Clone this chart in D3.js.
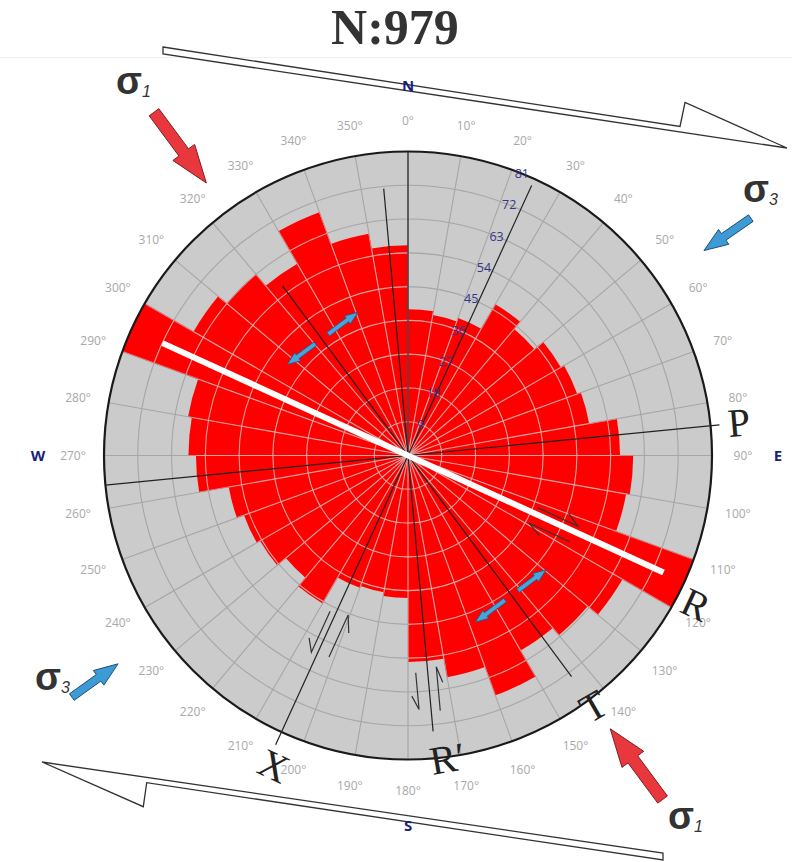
<!DOCTYPE html>
<html>
<head>
<meta charset="utf-8">
<script src="https://cdn.jsdelivr.net/npm/d3@7"></script>
<style>
  body { margin: 0; background: #fff; }
  svg { display: block; }
</style>
</head>
<body>
<svg id="chart" width="792" height="862"></svg>
<script>
// ---- data ----
const total = 979;
const sectors = [0, 10, 20, 30, 40, 50, 60, 70, 80, 90, 100, 110, 120, 130, 140, 150, 160, 170,
                 180, 190, 200, 210, 220, 230, 240, 250, 260, 270, 280, 290, 300, 310, 320, 330, 340, 350];
const counts = [39, 38, 39, 46.5, 44, 47, 48, 49, 56.5, 60, 59, 81, 66, 62.5, 60, 68, 60, 55,
                38, 37, 37.5, 45.5, 42.5, 45.5, 46.5, 48.5, 56.5, 58.5, 59.5, 81, 66, 63, 59, 69, 60, 56];
const ringTicks = [9, 18, 27, 36, 45, 54, 63, 72, 81];
const degreeTicks = [0, 10, 20, 30, 40, 50, 60, 70, 80, 90, 100, 110, 120, 130, 140, 150, 160, 170,
                     180, 190, 200, 210, 220, 230, 240, 250, 260, 270, 280, 290, 300, 310, 320, 330, 340, 350];
const compass = ["N", "E", "S", "W"];
const compassAz = [0, 90, 180, 270];

const cx = 408, cy = 455.5, R = 304;
const svg = d3.select("#chart");
const rScale = d3.scaleLinear().domain([0, 81]).range([0, R]);
const aScale = d3.scaleLinear().domain([0, 360]).range([0, 2 * Math.PI]);

function polar(az, r) {
    const a = aScale(az);
    return [r * Math.sin(a), -r * Math.cos(a)];
}

// title
svg.append("text")
    .attr("x", 395).attr("y", 44)
    .attr("text-anchor", "middle")
    .attr("font-family", "'Liberation Serif', 'Times New Roman', serif")
    .attr("font-weight", "bold")
    .attr("font-size", 50)
    .attr("fill", "#333")
    .text("N:" + total);
svg.append("line").attr("x1", 0).attr("x2", 792).attr("y1", 57.5).attr("y2", 57.5)
    .attr("stroke", "#f0f0f0");

// large half arrows for the shear zone (drawn first, labels go on top)
const topShear = [[163, 47], [680, 126.5], [685, 102.5], [787, 148], [163, 54]];
const bottomShear = [[42, 762], [663, 853], [663, 860], [146.7, 782.7], [143.3, 806.7]];
[topShear, bottomShear].forEach(function (pts) {
    svg.append("path")
        .attr("d", d3.line()(pts) + "Z")
        .attr("fill", "#fff")
        .attr("stroke", "#333")
        .attr("stroke-width", 1.3)
        .attr("stroke-linejoin", "miter");
});

const g = svg.append("g").attr("transform", `translate(${cx},${cy})`);

// background disc
g.append("circle").attr("r", R).attr("fill", "#cbcbcb");

function drawGrid(sel, color) {
    sel.selectAll("circle")
        .data(ringTicks.slice(0, -1))
        .enter().append("circle")
        .attr("r", d => rScale(d))
        .attr("fill", "none")
        .attr("stroke", color)
        .attr("stroke-width", 1.1);
    sel.selectAll("line")
        .data(degreeTicks)
        .enter().append("line")
        .attr("x1", 0).attr("y1", 0)
        .attr("x2", d => polar(d, R)[0])
        .attr("y2", d => polar(d, R)[1])
        .attr("stroke", color)
        .attr("stroke-width", 1.1);
}
drawGrid(g.append("g"), "#a6a6a6");

// petals
const arc = d3.arc().innerRadius(0);
const petals = sectors.map((s, i) => ({
    startAngle: aScale(s),
    endAngle: aScale(s + 10),
    outerRadius: rScale(counts[i])
}));
const defs = svg.append("defs");
defs.append("clipPath").attr("id", "petalClip")
    .selectAll("path")
    .data(petals)
    .enter().append("path")
    .attr("d", arc);

g.append("g").selectAll("path")
    .data(petals)
    .enter().append("path")
    .attr("d", arc)
    .attr("fill", "#ff0000");

// light grid over the red
drawGrid(g.append("g").attr("clip-path", "url(#petalClip)"), "#dea4a2");

// outer circle
g.append("circle").attr("r", R).attr("fill", "none").attr("stroke", "#1a1a1a").attr("stroke-width", 2.2);

// degree labels
g.append("g").selectAll("text")
    .data(degreeTicks)
    .enter().append("text")
    .attr("x", d => polar(d, 335)[0])
    .attr("y", d => polar(d, 335)[1])
    .attr("text-anchor", "middle")
    .attr("dy", "0.35em")
    .attr("font-family", "'Open Sans', 'Noto Sans', sans-serif")
    .attr("font-size", 12)
    .attr("fill", "#a8a8a8")
    .text(d => d + "°");

// compass letters
g.append("g").selectAll("text")
    .data(compass)
    .enter().append("text")
    .attr("x", (d, i) => polar(compassAz[i], 370)[0])
    .attr("y", (d, i) => polar(compassAz[i], 370)[1])
    .attr("text-anchor", "middle")
    .attr("dy", "0.35em")
    .attr("font-family", "'Open Sans', 'Noto Sans', sans-serif")
    .attr("font-weight", "bold")
    .attr("font-size", 15)
    .attr("fill", "#1a1f7a")
    .text(d => d);

// fracture lines (azimuth, length on that side, length on opposite side)
const fractureLines = [
    [0, R, 0],
    [354.8, 268, 277],
    [24.6, 297, 318],
    [84.4, 313, 304],
    [143.5, 275, 211]
];
fractureLines.forEach(function (l) {
    const a = polar(l[0], l[1]);
    const b = polar(l[0] + 180, l[2]);
    g.append("line")
        .attr("x1", a[0]).attr("y1", a[1])
        .attr("x2", b[0]).attr("y2", b[1])
        .attr("stroke", "#222")
        .attr("stroke-width", 1.2);
});

// main R direction, white
const rA = polar(114.6, 281), rB = polar(294.6, 270);
g.append("line")
    .attr("x1", rA[0]).attr("y1", rA[1])
    .attr("x2", rB[0]).attr("y2", rB[1])
    .attr("stroke", "#fff")
    .attr("stroke-width", 6);

// radial count labels
g.append("g").selectAll("text")
    .data(ringTicks)
    .enter().append("text")
    .attr("x", d => polar(22, rScale(d))[0])
    .attr("y", d => polar(22, rScale(d))[1])
    .attr("text-anchor", "middle")
    .attr("dy", "0.35em")
    .attr("font-family", "'Open Sans', 'Noto Sans', sans-serif")
    .attr("font-size", 12.5)
    .attr("fill", "#35358c")
    .text(d => d);

// half arrows showing shear sense beside a line
function halfArrow(az, r0, r1, perp, headFar, back, out) {
    const grp = g.append("g").attr("transform", `rotate(${az - 90})`);
    const sign = perp > 0 ? 1 : -1;
    const hx = headFar ? r1 : r0;
    const dir = headFar ? -1 : 1;
    const pts = [[headFar ? r0 : r1, perp], [hx, perp], [hx + dir * back, perp + sign * out]];
    grp.append("path")
        .attr("d", d3.line()(pts))
        .attr("fill", "none")
        .attr("stroke", "#333")
        .attr("stroke-width", 1.2);
}
halfArrow(114.6, 139, 184, -6.5, true, 14, 8);
halfArrow(114.6, 138, 183, 11, false, 15, 7);
halfArrow(204.6, 174, 219, 6, true, 12, 8);
halfArrow(204.6, 170, 216, -12, false, 16, 8);
halfArrow(174.8, 217, 254, 12, true, 14, 6);
halfArrow(174.8, 213, 257, -9, false, 16, 5);

// block arrow between two points
function blockArrow(p0, p1, sw, hw, hl, fill, stroke) {
    const dx = p1[0] - p0[0], dy = p1[1] - p0[1];
    const L = Math.sqrt(dx * dx + dy * dy);
    const ang = Math.atan2(dy, dx) * 180 / Math.PI;
    const pts = [[0, -sw / 2], [L - hl, -sw / 2], [L - hl, -hw / 2], [L, 0],
                 [L - hl, hw / 2], [L - hl, sw / 2], [0, sw / 2]];
    g.append("path")
        .attr("transform", `translate(${p0[0]},${p0[1]}) rotate(${ang})`)
        .attr("d", d3.line()(pts) + "Z")
        .attr("fill", fill)
        .attr("stroke", stroke)
        .attr("stroke-width", 0.9);
}

// extension arrows across the T direction
function addVec(a, b, k) { return [a[0] + b[0] * k, a[1] + b[1] * k]; }
[[323.5, 145], [143.5, 174]].forEach(function (t) {
    const c = polar(t[0], t[1]);
    const u = polar(t[0] + 90, 1);
    blockArrow(addVec(c, u, 8), addVec(c, u, 45), 4.5, 10, 13, "#4ba3dc", "#285a82");
    blockArrow(addVec(c, u, -8), addVec(c, u, -43), 4.5, 10, 13, "#4ba3dc", "#285a82");
});

// principal stress arrows
blockArrow(polar(323.5, 427), polar(323.5, 339), 12, 27, 38, "#e8383d", "#7a1d1f");
blockArrow(polar(143.5, 428), polar(143.5, 340), 12, 27, 38, "#e8383d", "#7a1d1f");
blockArrow(polar(55.3, 417), polar(55.3, 360), 8, 18, 24, "#3d9ad4", "#1d4f7a");
blockArrow(polar(234.3, 414), polar(234.3, 357), 8, 18, 24, "#3d9ad4", "#1d4f7a");

function sigma(x, y, sub) {
    const t = svg.append("text")
        .attr("x", x).attr("y", y)
        .attr("font-family", "'Liberation Sans', Arial, sans-serif")
        .attr("fill", "#333");
    t.append("tspan").attr("font-weight", "bold").attr("font-size", 38).text("σ");
    t.append("tspan").attr("font-style", "italic").attr("font-size", 16).attr("dy", 3).text(sub);
}
sigma(116, 94, "1");
sigma(668, 829, "1");
sigma(743, 202, "3");
sigma(35, 690, "3");

// letters for the fracture sets
const letterFont = "'Liberation Serif', 'Times New Roman', serif";
[["P", 740, 436, -5], ["R", 690, 617, 25], ["T", 600, 718, -30], ["X", 268, 778, 25], ["R′", 450, 772, -10]]
    .forEach(function (d) {
        svg.append("text")
            .attr("transform", `translate(${d[1]},${d[2]}) rotate(${d[3]})`)
            .attr("text-anchor", "middle")
            .attr("font-family", letterFont)
            .attr("font-size", 40)
            .attr("fill", "#222")
            .text(d[0]);
    });
</script>
</body>
</html>
